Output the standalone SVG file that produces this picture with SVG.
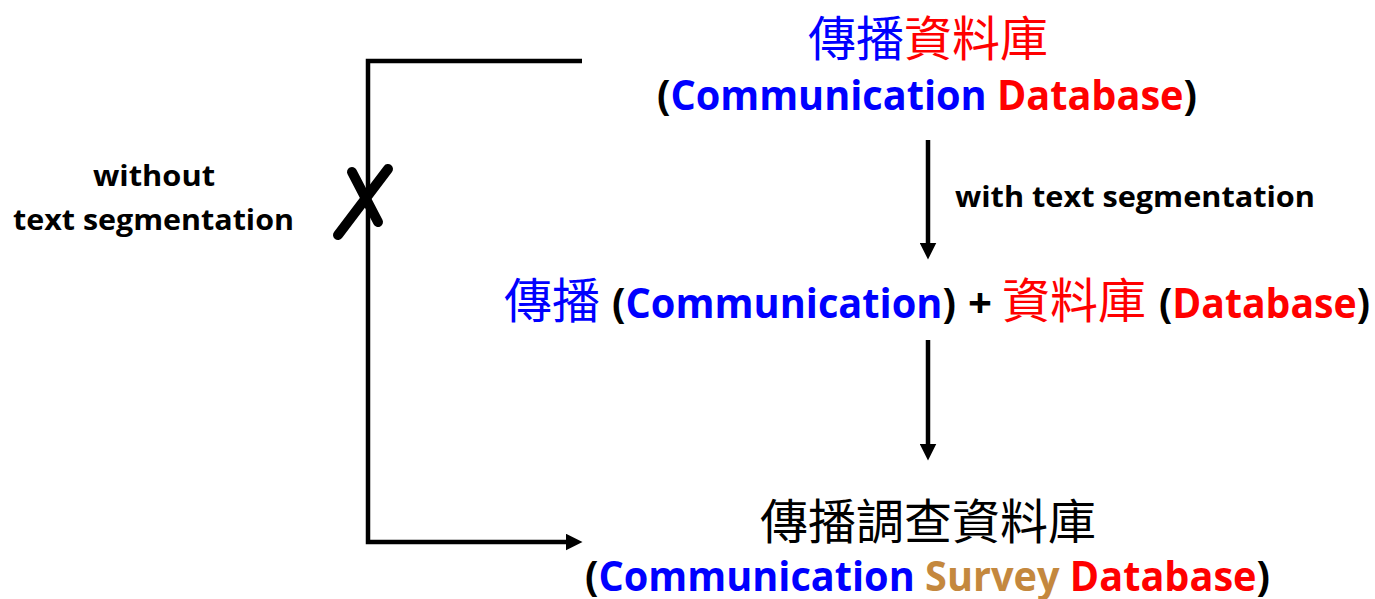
<svg xmlns="http://www.w3.org/2000/svg" width="1375" height="599" viewBox="0 0 1375 599">
<style>
.lat{font-family:"Open Sans","Liberation Sans",sans-serif;font-weight:bold;fill:#000;font-variant-ligatures:none}
.cjk{font-family:"Noto Sans CJK TC","Noto Sans CJK SC",sans-serif;font-weight:normal}
.b{fill:#0000FF}.r{fill:#FF0000}.s{fill:#C4883E}.k{fill:#000}
.ln{fill:none;stroke:#000;stroke-width:4.5}
</style>
<defs>
<marker id="ah" markerUnits="userSpaceOnUse" markerWidth="17" markerHeight="17" viewBox="0 0 16 16" refX="8" refY="8" orient="auto">
<path d="M0,0 L16,8 L0,16 Z" fill="#000"/>
</marker>
</defs>
<g id="connectors">
<path class="ln" d="M582,61 H368 V542 H574" marker-end="url(#ah)"/>
<line class="ln" x1="928" y1="140" x2="928" y2="251" marker-end="url(#ah)"/>
<line class="ln" x1="928" y1="340" x2="928" y2="452" marker-end="url(#ah)"/>
<g id="cross" stroke="#000" stroke-width="10" stroke-linecap="round">
<line x1="352" y1="172" x2="378" y2="222"/>
<line x1="388" y1="169" x2="338" y2="235"/>
</g>
<text class="lat" x="955" y="207" font-size="28" textLength="360" lengthAdjust="spacingAndGlyphs">with text segmentation</text>
<text class="lat" x="93" y="186" font-size="28" textLength="122" lengthAdjust="spacingAndGlyphs">without</text>
<text class="lat" x="13" y="230" font-size="28" textLength="281" lengthAdjust="spacingAndGlyphs">text segmentation</text>
</g>
<g id="node-top">
<text class="cjk" x="808" y="56" font-size="48"><tspan class="b">傳播</tspan><tspan class="r">資料庫</tspan></text>
<text class="lat" x="657" y="110" font-size="42" textLength="540" lengthAdjust="spacingAndGlyphs">(<tspan class="b">Communication</tspan> <tspan class="r">Database</tspan>)</text>
</g>
<g id="node-middle">
<text class="cjk b" x="504" y="318" font-size="48">傳播</text>
<text class="lat" x="612" y="318" font-size="42" textLength="344" lengthAdjust="spacingAndGlyphs">(<tspan class="b">Communication</tspan>)</text>
<text class="lat" x="980" y="318" font-size="42" text-anchor="middle">+</text>
<text class="cjk r" x="1002" y="318" font-size="48">資料庫</text>
<text class="lat" x="1159" y="318" font-size="42" textLength="211" lengthAdjust="spacingAndGlyphs">(<tspan class="r">Database</tspan>)</text>
</g>
<g id="node-bottom">
<text class="cjk k" x="760" y="539" font-size="48">傳播調查資料庫</text>
<text class="lat" x="585" y="591" font-size="42" textLength="685" lengthAdjust="spacingAndGlyphs">(<tspan class="b">Communication</tspan> <tspan class="s">Survey</tspan> <tspan class="r">Database</tspan>)</text>
</g>
</svg>
